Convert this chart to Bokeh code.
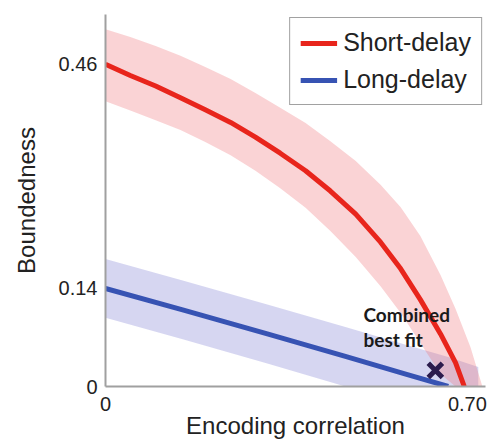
from bokeh.plotting import figure
from bokeh.models import FixedTicker, Label, Range1d, Legend, LegendItem
from bokeh.embed import file_html
from bokeh.resources import INLINE

# Short-delay fit (red): centre line
enc_red = [0.0, 0.048, 0.097, 0.145, 0.193, 0.242, 0.290, 0.338, 0.387, 0.435,
           0.484, 0.532, 0.571, 0.609, 0.648, 0.677, 0.694]
bound_red = [0.460, 0.444, 0.429, 0.412, 0.395, 0.377, 0.356, 0.333, 0.308, 0.279,
             0.246, 0.206, 0.168, 0.124, 0.075, 0.034, 0.0]
# Short-delay band
enc_red_band = [0.0, 0.048, 0.097, 0.145, 0.193, 0.242, 0.290, 0.338, 0.387, 0.435,
                0.484, 0.532, 0.571, 0.609, 0.648, 0.677, 0.706, 0.729]
red_upper = [0.510, 0.499, 0.486, 0.472, 0.456, 0.439, 0.419, 0.398, 0.376, 0.350,
             0.322, 0.288, 0.256, 0.215, 0.159, 0.111, 0.056, 0.0]
red_lower = [0.407, 0.394, 0.380, 0.366, 0.349, 0.330, 0.308, 0.283, 0.255, 0.222,
             0.185, 0.143, 0.105, 0.062, 0.018, 0.0, 0.0, 0.0]

# Long-delay fit (blue): centre line and band
enc_blue = [0.0, 0.151, 0.313, 0.464, 0.584, 0.663]
bound_blue = [0.140, 0.109, 0.075, 0.043, 0.017, 0.0]
enc_blue_band = [0.0, 0.151, 0.313, 0.464, 0.584, 0.663, 0.721]
blue_upper = [0.182, 0.151, 0.117, 0.085, 0.059, 0.042, 0.028]
blue_lower = [0.098, 0.067, 0.033, 0.0, 0.0, 0.0, 0.0]

# Combined best fit
best_fit_x = [0.638]
best_fit_y = [0.023]

x_ticks = [0, 0.70]
x_tick_labels = ["0", "0.70"]
y_ticks = [0, 0.14, 0.46]
y_tick_labels = ["0", "0.14", "0.46"]

p = figure(width=497, height=441, output_backend="svg", toolbar_location=None,
           x_range=Range1d(0, 0.735), y_range=Range1d(0, 0.531),
           min_border_left=105, min_border_right=12, min_border_top=14, min_border_bottom=55)
p.background_fill_color = "white"
p.border_fill_color = "white"
p.outline_line_color = None
p.grid.visible = False

p.varea(x=enc_blue_band, y1=blue_lower, y2=blue_upper, fill_color="#8a8ad6", fill_alpha=0.35)
p.varea(x=enc_red_band, y1=red_lower, y2=red_upper, fill_color="#f07a80", fill_alpha=0.33)
rb = p.line(enc_blue, bound_blue, line_color="#3753b3", line_width=5, line_join="round")
rr = p.line(enc_red, bound_red, line_color="#e8251c", line_width=5, line_join="round")
p.scatter(best_fit_x, best_fit_y, marker="x", size=20, line_width=5, line_color="#2b1b4d")

legend = Legend(items=[LegendItem(label="Short-delay", renderers=[rr]),
                       LegendItem(label="Long-delay", renderers=[rb])],
                location="top_right", margin=3, padding=10, spacing=8,
                glyph_width=37, glyph_height=28, label_standoff=6,
                label_text_font="Liberation Sans", label_text_font_size="25px",
                label_text_color="#222222",
                border_line_color="#444444", border_line_width=1.5,
                background_fill_color="white", background_fill_alpha=1.0)
p.add_layout(legend)

p.add_layout(Label(x=0.499, y=0.087, text="Combined", text_font="Lato",
                   text_font_style="bold", text_font_size="19px", text_color="#1a1a1a"))
p.add_layout(Label(x=0.499, y=0.051, text="best fit", text_font="Lato",
                   text_font_style="bold", text_font_size="19px", text_color="#1a1a1a"))

for ax in (p.xaxis[0], p.yaxis[0]):
    ax.axis_line_color = "#a0a0a0"
    ax.axis_line_width = 2
    ax.major_tick_out = 0
    ax.major_tick_in = 0
    ax.minor_tick_out = 0
    ax.minor_tick_in = 0
    ax.major_label_text_font = "Liberation Sans"
    ax.major_label_text_font_size = "20px"
    ax.major_label_text_color = "#222222"
    ax.axis_label_text_font = "Liberation Sans"
    ax.axis_label_text_font_size = "24px"
    ax.axis_label_text_font_style = "normal"
    ax.axis_label_text_color = "#222222"

p.xaxis.ticker = FixedTicker(ticks=x_ticks)
p.xaxis.major_label_overrides = dict(zip(x_ticks, x_tick_labels))
p.xaxis.axis_label = "Encoding correlation"
p.xaxis.major_label_standoff = 10
p.xaxis.axis_label_standoff = -2

p.yaxis.ticker = FixedTicker(ticks=y_ticks)
p.yaxis.major_label_overrides = dict(zip(y_ticks, y_tick_labels))
p.yaxis.axis_label = "Boundedness"
p.yaxis.major_label_standoff = 8
p.yaxis.axis_label_standoff = 16

open("out.html", "w").write(file_html(p, INLINE))
